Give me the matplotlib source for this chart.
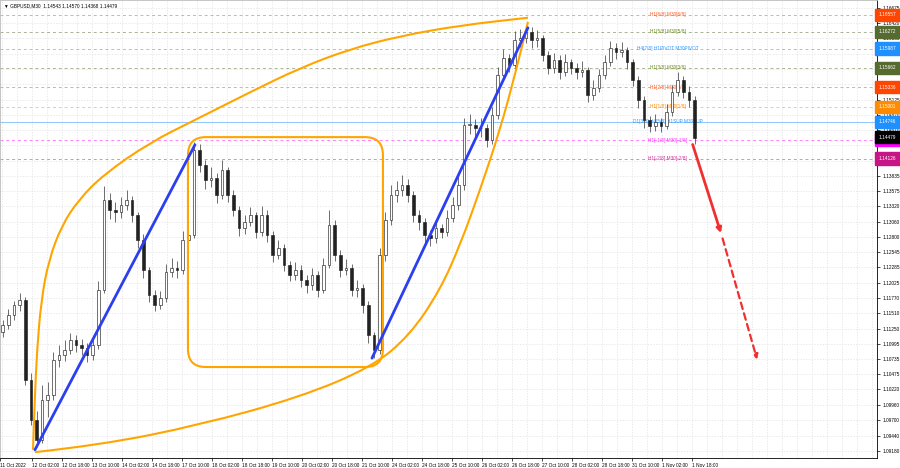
import matplotlib
matplotlib.use("Agg")
import matplotlib.pyplot as plt
import numpy as np
from matplotlib.patches import FancyBboxPatch, PathPatch
from matplotlib.path import Path
import matplotlib.transforms as mtransforms

plt.rcParams["font.family"] = ["Liberation Sans", "DejaVu Sans"]

# GBPUSD M30, drawn as 3-hour candles (6 bars of M30 each)
closes = [1.1131, 1.1148, 1.1165, 1.1173, 1.1038, 1.0970, 1.0937, 1.1004, 1.1013, 1.1072,
          1.1080, 1.1089, 1.1106, 1.1097, 1.1092, 1.1080, 1.1097, 1.1190, 1.1343, 1.1326,
          1.1322, 1.1334, 1.1343, 1.1317, 1.1275, 1.1224, 1.1182, 1.1165, 1.1177, 1.1221,
          1.1228, 1.1224, 1.1275, 1.1283, 1.1427, 1.1402, 1.1376, 1.1380, 1.1351, 1.1393,
          1.1351, 1.1326, 1.1295, 1.1305, 1.1317, 1.1289, 1.1317, 1.1283, 1.1250, 1.1261,
          1.1233, 1.1216, 1.1224, 1.1207, 1.1199, 1.1216, 1.1190, 1.1233, 1.1300, 1.1250,
          1.1224, 1.1228, 1.1190, 1.1194, 1.1165, 1.1114, 1.1089, 1.1250, 1.1309, 1.1351,
          1.1360, 1.1368, 1.1351, 1.1317, 1.1305, 1.1283, 1.1278, 1.1295, 1.1289, 1.1312,
          1.1334, 1.1368, 1.1470, 1.1470, 1.1464, 1.1464, 1.1444, 1.1486, 1.1554, 1.1583,
          1.1571, 1.1613, 1.1617, 1.1627, 1.1613, 1.1617, 1.1588, 1.1566, 1.1580, 1.1559,
          1.1576, 1.1566, 1.1559, 1.1563, 1.1520, 1.1532, 1.1554, 1.1576, 1.1600, 1.1593,
          1.1596, 1.1576, 1.1546, 1.1512, 1.1478, 1.1468, 1.1475, 1.1468, 1.1492, 1.1525,
          1.1546, 1.1525, 1.1512, 1.1448]
highs = [1.1140, 1.1158, 1.1172, 1.1186, 1.1178, 1.1050, 1.0985, 1.1030, 1.1035, 1.1085,
         1.1098, 1.1105, 1.1118, 1.1115, 1.1108, 1.1100, 1.1110, 1.1205, 1.1367, 1.1355,
         1.1340, 1.1348, 1.1360, 1.1350, 1.1322, 1.1285, 1.1230, 1.1190, 1.1188, 1.1235,
         1.1245, 1.1240, 1.1290, 1.1300, 1.1440, 1.1437, 1.1410, 1.1398, 1.1388, 1.1410,
         1.1398, 1.1360, 1.1332, 1.1318, 1.1330, 1.1322, 1.1332, 1.1325, 1.1290, 1.1275,
         1.1268, 1.1240, 1.1238, 1.1232, 1.1215, 1.1228, 1.1222, 1.1245, 1.1325, 1.1308,
         1.1258, 1.1242, 1.1235, 1.1208, 1.1200, 1.1172, 1.1120, 1.1262, 1.1322, 1.1368,
         1.1375, 1.1385, 1.1378, 1.1358, 1.1325, 1.1312, 1.1292, 1.1308, 1.1302, 1.1325,
         1.1348, 1.1385, 1.1482, 1.1488, 1.1480, 1.1482, 1.1472, 1.1500, 1.1568, 1.1598,
         1.1590, 1.1628, 1.1632, 1.1638, 1.1635, 1.1630, 1.1622, 1.1595, 1.1592, 1.1588,
         1.1590, 1.1582, 1.1575, 1.1578, 1.1568, 1.1545, 1.1565, 1.1588, 1.1612, 1.1608,
         1.1610, 1.1602, 1.1582, 1.1552, 1.1518, 1.1485, 1.1488, 1.1482, 1.1505, 1.1538,
         1.1560, 1.1552, 1.1535, 1.1518]
lows = [1.1110, 1.1125, 1.1140, 1.1155, 1.1030, 1.0962, 1.0925, 1.0932, 1.0975, 1.1005,
        1.1060, 1.1070, 1.1082, 1.1085, 1.1080, 1.1068, 1.1072, 1.1090, 1.1185, 1.1310,
        1.1305, 1.1312, 1.1325, 1.1305, 1.1262, 1.1210, 1.1170, 1.1155, 1.1158, 1.1170,
        1.1212, 1.1210, 1.1218, 1.1262, 1.1278, 1.1390, 1.1362, 1.1365, 1.1338, 1.1345,
        1.1340, 1.1315, 1.1282, 1.1285, 1.1298, 1.1278, 1.1282, 1.1272, 1.1238, 1.1242,
        1.1222, 1.1205, 1.1208, 1.1195, 1.1185, 1.1190, 1.1178, 1.1185, 1.1228, 1.1240,
        1.1212, 1.1215, 1.1180, 1.1178, 1.1152, 1.1100, 1.1075, 1.1082, 1.1240, 1.1300,
        1.1340, 1.1350, 1.1340, 1.1305, 1.1292, 1.1270, 1.1265, 1.1270, 1.1278, 1.1282,
        1.1305, 1.1325, 1.1360, 1.1455, 1.1450, 1.1450, 1.1432, 1.1438, 1.1480, 1.1545,
        1.1560, 1.1565, 1.1602, 1.1608, 1.1600, 1.1602, 1.1578, 1.1555, 1.1558, 1.1548,
        1.1552, 1.1555, 1.1548, 1.1550, 1.1508, 1.1512, 1.1525, 1.1548, 1.1570, 1.1582,
        1.1585, 1.1565, 1.1535, 1.1498, 1.1465, 1.1458, 1.1460, 1.1458, 1.1462, 1.1485,
        1.1518, 1.1515, 1.1500, 1.1437]
first_open = 1.1120
bars_per_candle = 6

# time axis labels (bar index of M30 bars)
x_tick_bars = [0] + [34 + 32 * i for i in range(23)]
x_tick_labels = ["11 Oct 2022", "12 Oct 02:00", "12 Oct 18:00", "13 Oct 10:00", "14 Oct 02:00",
                 "14 Oct 18:00", "17 Oct 10:00", "18 Oct 02:00", "18 Oct 18:00", "19 Oct 10:00",
                 "20 Oct 02:00", "20 Oct 18:00", "21 Oct 10:00", "24 Oct 02:00", "24 Oct 18:00",
                 "25 Oct 10:00", "26 Oct 02:00", "26 Oct 18:00", "27 Oct 10:00", "28 Oct 02:00",
                 "28 Oct 18:00", "31 Oct 10:00", "1 Nov 02:00", "1 Nov 18:00"]

y_ticks = [1.16675, 1.16420, 1.16160, 1.15900, 1.15640, 1.15385, 1.15125, 1.14870, 1.14610,
           1.14350, 1.14090, 1.13835, 1.13575, 1.13320, 1.13060, 1.12800, 1.12545, 1.12285,
           1.12025, 1.11770, 1.11510, 1.11250, 1.10995, 1.10735, 1.10475, 1.10220, 1.09960,
           1.09700, 1.09440, 1.09180]
# ticks whose label is covered by a level price box
hidden_ticks = [1.15640, 1.15385, 1.14090]

# Murrey math style levels
level_prices = [1.16557, 1.16272, 1.15987, 1.15662, 1.15336, 1.15001, 1.14746, 1.14441, 1.14126]
level_names = ["H1[6/8] M30[6/8]", "H1[5/8] M30[5/8]", "H4[7/8] H1PIVOT M30PIVOT",
               "H1[3/8] M30[3/8]", "H1[2/8] M30[2/8]", "H1[1/8] M30[1/8]",
               "D1[3/8] H4[5/8] H1SUP M30SUP", "H1[-1/8] M30[-1/8]", "H1[-2/8] M30[-2/8]"]
level_colors = ["#ff4500", "#556b2f", "#1e90ff", "#556b2f", "#ff4500", "#ff8c00",
                "#1e90ff", "#ff00ff", "#c71585"]
level_text_colors = ["#ff5a1f", "#6b8e23", "#3399ff", "#6b8e23", "#ff5a1f", "#ff8c00",
                     "#3399ff", "#ff33ff", "#d0309a"]
last_price = 1.14479

# drawn objects (bar index, price)
blue_lines = [((37.3, 1.0920), (208.0, 1.1436)), ((396.8, 1.1075), (563.2, 1.1634))]
red_solid = ((738.0, 1.1441), (770.0, 1.1282))
red_dashed = ((770.0, 1.1282), (808.5, 1.1068))
box_x = (200.5, 408.5)
box_y = (1.1060, 1.1449)
upper_curve = [(35.2, 1.0920), (37.0, 1.1004), (39.5, 1.1089), (44.0, 1.1173), (52.0, 1.1241),
               (66.0, 1.1300), (84.0, 1.1343), (110.0, 1.1385), (160.0, 1.1440), (208.0, 1.1478),
               (266.7, 1.1525), (320.0, 1.1566), (373.3, 1.1598), (426.7, 1.1620),
               (490.7, 1.1638), (563.2, 1.1651)]
lower_curve = [(37.3, 1.0916), (106.7, 1.0928), (213.3, 1.0962), (320.0, 1.1009),
               (396.8, 1.1060), (437.3, 1.1114), (469.3, 1.1190), (490.7, 1.1266),
               (512.0, 1.1359), (533.3, 1.1461), (549.3, 1.1554), (563.2, 1.1644)]
label_center_bar = 712.5

font_size = 3.4


def smooth_path(points):
    pts = np.array(points)
    verts = [pts[0]]
    codes = [Path.MOVETO]
    for i in range(1, len(pts) - 1):
        verts += [pts[i], (pts[i] + pts[i + 1]) / 2]
        codes += [Path.CURVE3, Path.CURVE3]
    verts.append(pts[-1])
    codes.append(Path.LINETO)
    return Path(verts, codes)


fig = plt.figure(figsize=(9, 4.68), dpi=100)
ax = fig.add_axes([0.0, 0.0214, 0.9744, 0.9786])
ax.set_xlim(0, 935.5)
ax.set_ylim(1.09061, 1.1681)

# grid
for yv in y_ticks:
    ax.axhline(yv, color="#e2e2e2", lw=0.5, ls=(0, (2, 2)), zorder=0)
for xv in range(2, 936, 16):
    ax.axvline(xv, color="#e2e2e2", lw=0.5, ls=(0, (2, 2)), zorder=0)

# level lines
for p, c, name in zip(level_prices, level_colors, level_names):
    ls = "-" if "SUP" in name else (0, (3, 3))
    ax.axhline(p, color=c, lw=0.7, ls=ls, alpha=0.5, zorder=1)
for p, name, tc in zip(level_prices, level_names, level_text_colors):
    ax.text(label_center_bar, p, name, color=tc, fontsize=font_size, ha="center", va="center", zorder=2)

# candles
n = len(closes)
xs = np.arange(n) * bars_per_candle + 3
opens = [first_open] + closes[:-1]
ax.vlines(xs, lows, highs, color="#555555", lw=0.6, zorder=3)
for x, o, c in zip(xs, opens, closes):
    bottom = min(o, c)
    h = max(abs(c - o), 0.00008)
    face = "white" if c >= o else "#222222"
    ax.bar(x, h, bottom=bottom, width=2.8, color=face, edgecolor="#222222", lw=0.45, zorder=4)

# drawn objects
for (x0, y0), (x1, y1) in blue_lines:
    ax.plot([x0, x1], [y0, y1], color="#2c3ff0", lw=2, zorder=6, solid_capstyle="round")

for curve in (upper_curve, lower_curve):
    ax.add_patch(PathPatch(smooth_path(curve), fill=False, edgecolor="#ffa500", lw=1.5, zorder=5))

rounding = 19
ax.add_patch(FancyBboxPatch((box_x[0], box_y[0]), box_x[1] - box_x[0], box_y[1] - box_y[0],
                            boxstyle=f"round,pad=0,rounding_size={rounding}",
                            mutation_aspect=(18 * 0.0001692) / rounding,
                            fill=False, edgecolor="#ffa500", lw=1.5, zorder=5))

ax.annotate("", xy=red_solid[1], xytext=red_solid[0],
            arrowprops=dict(arrowstyle="-|>", color="#f03030", lw=2, mutation_scale=7), zorder=7)
ax.annotate("", xy=red_dashed[1], xytext=red_dashed[0],
            arrowprops=dict(arrowstyle="-|>", color="#f03030", lw=1.6, ls=(0, (3, 2)),
                            mutation_scale=7), zorder=7)

# axes styling
ax.yaxis.tick_right()
ax.set_yticks(y_ticks)
ax.set_yticklabels(["" if v in hidden_ticks else f"{v:.5f}" for v in y_ticks])
ax.set_xticks(x_tick_bars)
ax.set_xticklabels(x_tick_labels)
for lab in ax.get_xticklabels():
    lab.set_ha("left")
ax.tick_params(axis="both", labelsize=font_size, length=2, width=0.5, pad=1.5, colors="black")
ax.tick_params(axis="y", pad=2)
for side in ("top", "left"):
    ax.spines[side].set_color("#bbbbbb")
    ax.spines[side].set_linewidth(0.6)
ax.spines["right"].set_linewidth(0.6)
ax.spines["bottom"].set_linewidth(0.6)

# price labels on the right axis
trans = mtransforms.blended_transform_factory(ax.transAxes, ax.transData)
for p, c in zip(level_prices, level_colors):
    ax.text(1.002, p, f"{p:.5f}", transform=trans, fontsize=font_size, color="white",
            ha="left", va="center", clip_on=False, zorder=10,
            bbox=dict(facecolor=c, edgecolor=c, pad=0.8, boxstyle="square"))
ax.text(1.002, last_price + 0.0001, f"{last_price:.5f}", transform=trans, fontsize=font_size,
        color="white", ha="left", va="center", clip_on=False, zorder=11,
        bbox=dict(facecolor="black", edgecolor="black", pad=0.8, boxstyle="square"))

ax.text(0.004, 0.992, "\u25bc GBPUSD,M30  1.14543 1.14570 1.14368 1.14479", transform=ax.transAxes,
        fontsize=font_size, ha="left", va="top", color="black", zorder=12)

fig.savefig("out.png", dpi=100, facecolor="white")
